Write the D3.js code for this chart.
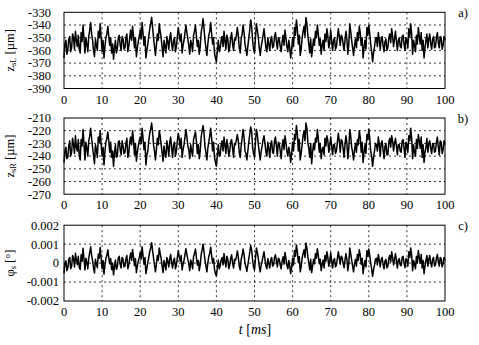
<!DOCTYPE html>
<html>
<head>
<meta charset="utf-8">
<script src="https://cdn.jsdelivr.net/npm/d3@7"></script>
<style>
  html, body { margin: 0; padding: 0; background: #fff; }
  .tick-label { font-size: 12.5px; fill: #000; }
  .grid { stroke: #000; stroke-width: 0.8; stroke-dasharray: 2,3; }
</style>
</head>
<body>
<div id="chart"></div>
<script>
// ---------------- data ----------------
const sampleStep = 0.25; // ms between samples, t = 0 .. 100

const zsL = [
  -366,-355,-352,-363,-360,-351,-349,-361,-358,-347,-350,-359,-345,-352,-357,-348,-359,-362,-346,-353,-340,-351,-362,-350,-355,-361,-349,-344,-338,-347,-352,-360,-365,-351,-356,-360,-345,-350,-339,-350,
  -361,-352,-366,-357,-350,-347,-341,-349,-356,-350,-362,-355,-367,-358,-352,-362,-359,-350,-348,-356,-360,-349,-351,-359,-358,-350,-347,-361,-357,-350,-344,-352,-341,-349,-358,-350,-365,-358,-353,-349,
  -344,-351,-338,-347,-356,-349,-366,-360,-355,-349,-343,-339,-334,-342,-350,-357,-364,-356,-347,-352,-339,-345,-350,-358,-365,-352,-357,-362,-349,-353,-359,-350,-346,-355,-360,-352,-350,-361,-357,-349,
  -342,-348,-353,-347,-362,-356,-352,-346,-340,-346,-351,-356,-363,-352,-355,-361,-348,-345,-340,-349,-357,-352,-363,-357,-346,-341,-335,-343,-352,-358,-364,-355,-348,-345,-338,-347,-355,-350,-362,-366,
  -369,-360,-352,-361,-358,-352,-349,-357,-345,-353,-359,-348,-351,-361,-357,-350,-346,-355,-360,-351,-352,-348,-342,-349,-358,-362,-351,-347,-340,-346,-355,-359,-364,-357,-350,-344,-336,-341,-352,-359,
  -362,-350,-339,-344,-350,-358,-364,-357,-353,-348,-343,-351,-358,-361,-350,-355,-360,-352,-349,-358,-357,-349,-346,-353,-359,-350,-351,-357,-361,-353,-348,-356,-344,-350,-357,-361,-352,-358,-366,-359,
  -350,-357,-342,-348,-336,-343,-355,-348,-364,-359,-350,-345,-341,-349,-334,-339,-348,-355,-362,-351,-365,-358,-351,-356,-345,-350,-340,-347,-356,-351,-363,-356,-352,-360,-347,-353,-343,-349,-358,-353,
  -344,-353,-360,-352,-350,-359,-357,-350,-343,-349,-356,-348,-349,-355,-360,-352,-345,-351,-363,-355,-339,-345,-352,-358,-364,-356,-351,-358,-346,-352,-341,-346,-356,-350,-366,-358,-352,-359,-342,-348,
  -340,-347,-355,-361,-369,-362,-357,-351,-350,-357,-346,-352,-359,-351,-349,-356,-361,-353,-351,-360,-358,-350,-347,-354,-343,-349,-357,-351,-345,-353,-360,-352,-350,-357,-358,-349,-348,-355,-360,-350,
  -352,-358,-343,-349,-339,-347,-363,-352,-356,-361,-348,-355,-342,-349,-355,-346,-360,-352,-366,-358,-352,-347,-358,-351,-347,-355,-359,-351,-349,-358,-357,-350,-346,-354,-358,-349,-350,-359,-356,-349,
  -352
];

const zsR = [
  -245,-236,-233,-242,-241,-232,-228,-240,-237,-226,-231,-238,-224,-233,-236,-227,-240,-243,-227,-232,-219,-230,-243,-229,-234,-240,-228,-224,-218,-226,-233,-239,-246,-231,-235,-241,-225,-229,-220,-231,
  -240,-233,-247,-236,-229,-226,-221,-228,-237,-229,-241,-236,-248,-237,-231,-241,-240,-229,-228,-235,-239,-228,-232,-238,-237,-230,-226,-241,-238,-229,-225,-231,-220,-228,-239,-230,-244,-237,-232,-228,
  -225,-230,-218,-226,-235,-229,-247,-239,-236,-228,-222,-219,-214,-221,-231,-236,-243,-235,-226,-231,-220,-224,-231,-237,-244,-232,-238,-241,-228,-233,-240,-229,-225,-234,-241,-231,-229,-240,-236,-228,
  -222,-227,-234,-226,-241,-235,-231,-225,-219,-225,-232,-235,-242,-231,-236,-240,-227,-224,-221,-228,-238,-231,-242,-236,-225,-220,-216,-222,-233,-237,-243,-234,-229,-224,-218,-226,-236,-229,-241,-245,
  -248,-239,-231,-240,-239,-231,-228,-236,-225,-232,-238,-227,-232,-240,-236,-229,-227,-234,-241,-230,-231,-227,-223,-228,-237,-241,-232,-226,-219,-225,-236,-238,-243,-236,-229,-223,-217,-220,-233,-238,
  -241,-229,-219,-223,-231,-237,-243,-236,-232,-227,-224,-230,-237,-240,-229,-234,-241,-231,-228,-237,-238,-228,-225,-232,-240,-229,-230,-236,-242,-232,-227,-235,-224,-229,-236,-240,-233,-237,-245,-238,
  -229,-236,-223,-227,-216,-222,-236,-227,-243,-238,-231,-224,-220,-228,-214,-218,-229,-234,-241,-230,-246,-237,-230,-235,-226,-229,-219,-226,-237,-230,-242,-235,-233,-239,-226,-232,-224,-228,-237,-232,
  -225,-232,-239,-231,-231,-238,-236,-229,-222,-228,-237,-227,-228,-234,-241,-231,-224,-230,-242,-234,-219,-224,-233,-237,-243,-235,-230,-237,-227,-231,-220,-225,-237,-229,-245,-237,-231,-238,-223,-227,
  -219,-226,-236,-240,-248,-241,-236,-230,-231,-236,-225,-231,-240,-230,-228,-235,-242,-232,-230,-239,-239,-229,-226,-233,-224,-228,-236,-230,-226,-232,-239,-231,-231,-236,-237,-228,-227,-234,-241,-229,
  -231,-237,-224,-228,-218,-226,-242,-231,-237,-240,-227,-234,-223,-228,-234,-225,-241,-231,-245,-237,-233,-226,-237,-230,-228,-234,-238,-230,-230,-237,-236,-229,-225,-233,-239,-228,-229,-238,-235,-228,
  -231
];

const phiS = [
  -0.00055,0.00002,0.00012,-0.0004,-0.00025,0.0002,0.0003,-0.0003,-0.00018,0.0004,0.00024,-0.0002,0.00052,0.00014,-0.00008,0.00036,-0.00022,-0.00034,0.00044,0.0001,0.00078,0.0002,-0.00036,0.00026,0.00002,-0.0003,0.00028,0.00056,0.00086,0.0004,0.00014,-0.00026,-0.00052,0.0002,-0.00004,-0.00024,0.00048,0.00026,0.00082,0.00024,
  -0.0003,0.00014,-0.00058,-0.0001,0.00026,0.0004,0.0007,0.0003,-0.00004,0.00024,-0.00034,0,-0.00062,-0.00016,0.00016,-0.00034,-0.0002,0.00026,0.00036,-0.00006,-0.00026,0.0003,0.0002,-0.0002,-0.00016,0.00024,0.0004,-0.0003,-0.0001,0.00026,0.00054,0.00014,0.00072,0.0003,-0.00014,0.00024,-0.0005,-0.00016,0.0001,0.0003,
  0.00056,0.0002,0.00086,0.0004,-0.00006,0.0003,-0.00056,-0.00026,0.00002,0.0003,0.0006,0.0008,0.00108,0.00066,0.00026,-0.0001,-0.00046,-0.00006,0.0004,0.00014,0.0008,0.0005,0.00024,-0.00016,-0.0005,0.00014,-0.0001,-0.00036,0.0003,0.0001,-0.0002,0.00024,0.00046,0,-0.00026,0.00016,0.00026,-0.0003,-0.0001,0.0003,
  0.00066,0.00034,0.0001,0.0004,-0.00036,-0.00006,0.00014,0.00046,0.00076,0.00044,0.0002,-0.00004,-0.0004,0.00016,0.00002,-0.0003,0.00034,0.0005,0.00074,0.0003,-0.0001,0.00014,-0.0004,-0.0001,0.00046,0.0007,0.001,0.0006,0.00016,-0.00014,-0.00046,0,0.00036,0.0005,0.00084,0.0004,0,0.00024,-0.00034,-0.00056,
  -0.00068,-0.00026,0.00016,-0.0003,-0.00014,0.00016,0.0003,-0.0001,0.0005,0.0001,-0.0002,0.00036,0.0002,-0.0003,-0.0001,0.00024,0.00044,0,-0.00026,0.0002,0.00014,0.00034,0.00064,0.0003,-0.00016,-0.00036,0.0002,0.0004,0.00074,0.00046,0,-0.0002,-0.00044,-0.0001,0.00024,0.00056,0.00094,0.0007,0.00016,-0.0002,
  -0.00036,0.00024,0.0008,0.00056,0.00024,-0.00016,-0.00046,-0.0001,0.0001,0.00036,0.0006,0.0002,-0.00016,-0.0003,0.00024,0,-0.00026,0.00016,0.0003,-0.00016,-0.0001,0.0003,0.00044,0.0001,-0.0002,0.00026,0.0002,-0.0001,-0.0003,0.0001,0.00034,-0.00006,0.00056,0.00024,-0.0001,-0.0003,0.00014,-0.00016,-0.00056,-0.0002,
  0.00024,-0.0001,0.00066,0.00036,0.00096,0.0006,0.00002,0.00034,-0.00046,-0.0002,0.00026,0.0005,0.0007,0.0003,0.00106,0.0008,0.00034,0,-0.00036,0.0002,-0.0005,-0.00016,0.0002,-0.00004,0.0005,0.00026,0.00076,0.0004,-0.00004,0.0002,-0.0004,-0.00006,0.00016,-0.00026,0.0004,0.0001,0.0006,0.0003,-0.00016,0.0001,
  0.00054,0.0001,-0.00026,0.00016,0.00024,-0.0002,-0.0001,0.00024,0.0006,0.0003,-0.00006,0.00036,0.0003,0,-0.00024,0.00014,0.0005,0.0002,-0.0004,0,0.0008,0.0005,0.00016,-0.00016,-0.00046,-0.00004,0.0002,-0.00016,0.00046,0.00014,0.0007,0.00044,-0.00006,0.00026,-0.00056,-0.00014,0.00014,-0.0002,0.00066,0.00036,
  0.00074,0.0004,0,-0.0003,-0.0007,-0.00036,-0.0001,0.0002,0.00026,-0.0001,0.00046,0.00014,-0.0002,0.0002,0.0003,-0.00006,-0.0003,0.0001,0.0002,-0.00026,-0.00016,0.00024,0.0004,0.00006,0.0006,0.0003,-0.0001,0.0002,0.0005,0.0001,-0.00026,0.00016,0.00024,-0.0001,-0.00014,0.0003,0.00036,0,-0.00024,0.00024,
  0.00016,-0.00016,0.0006,0.0003,0.0008,0.0004,-0.0004,0.00014,-0.00006,-0.0003,0.00036,0,0.00066,0.0003,0,0.00046,-0.00026,0.00014,-0.00056,-0.00016,0.00014,0.0004,-0.00016,0.0002,0.0004,0,-0.0002,0.0002,0.0003,-0.00016,-0.0001,0.00024,0.00046,0.00006,-0.00016,0.0003,0.00024,-0.0002,-0.00004,0.0003,
  0.00014
];

const xTicks = [0, 10, 20, 30, 40, 50, 60, 70, 80, 90, 100];
const zsLTicks = [-390, -380, -370, -360, -350, -340, -330];
const zsRTicks = [-270, -260, -250, -240, -230, -220, -210];
const phiTicks = [-0.002, -0.001, 0, 0.001, 0.002];
const phiTickLabels = ["-0.002", "-0.001", "0", "0.001", "0.002"];

// ---------------- layout ----------------
const W = 479, H = 345;
const FONT = "Liberation Serif";

const svg = d3.select("#chart").append("svg")
  .attr("width", W).attr("height", H)
  .attr("viewBox", `0 0 ${W} ${H}`)
  .attr("font-family", FONT);

const x = d3.scaleLinear().domain([0, 100]).range([64, 445]);

const panels = [
  { values: zsL, ticks: zsLTicks, labels: zsLTicks.map(String), top: 12.3, bottom: 88.5,
    labelRight: 51, tag: "a)", name: ["z", "sL", " [\u00b5m]"] },
  { values: zsR, ticks: zsRTicks, labels: zsRTicks.map(String), top: 118, bottom: 194.2,
    labelRight: 51, tag: "b)", name: ["z", "sR", " [\u00b5m]"] },
  { values: phiS, ticks: phiTicks, labels: phiTickLabels, top: 225.2, bottom: 301,
    labelRight: 59, tag: "c)", name: ["\u03c6", "s", " [\u00b0]"] }
];

panels.forEach((p) => {
  const y = d3.scaleLinear()
    .domain(d3.extent(p.ticks))
    .range([p.bottom, p.top]);
  const g = svg.append("g");

  // grid
  g.selectAll(".vgrid")
    .data(xTicks.slice(1, -1))
    .enter().append("line")
    .attr("class", "grid")
    .attr("x1", (d) => x(d)).attr("x2", (d) => x(d))
    .attr("y1", p.top).attr("y2", p.bottom);
  g.selectAll(".hgrid")
    .data(p.ticks.slice(1, -1))
    .enter().append("line")
    .attr("class", "grid")
    .attr("x1", x(0)).attr("x2", x(100))
    .attr("y1", (d) => y(d)).attr("y2", (d) => y(d));

  // signal
  const line = d3.line()
    .x((d, i) => x(i * sampleStep))
    .y((d) => y(d));
  g.append("path")
    .datum(p.values)
    .attr("fill", "none")
    .attr("stroke", "#000")
    .attr("stroke-width", 1.5)
    .attr("stroke-linejoin", "round")
    .attr("d", line);

  // frame
  g.append("rect")
    .attr("x", x(0)).attr("y", p.top)
    .attr("width", x(100) - x(0)).attr("height", p.bottom - p.top)
    .attr("fill", "none").attr("stroke", "#000").attr("stroke-width", 1);

  // y tick labels
  g.selectAll(".ylab")
    .data(p.ticks)
    .enter().append("text")
    .attr("class", "tick-label")
    .attr("font-family", FONT)
    .attr("x", p.labelRight)
    .attr("y", (d) => y(d))
    .attr("dy", "0.35em")
    .attr("text-anchor", "end")
    .text((d, i) => p.labels[i]);

  // x tick labels
  g.selectAll(".xlab")
    .data(xTicks)
    .enter().append("text")
    .attr("class", "tick-label")
    .attr("font-family", FONT)
    .attr("x", (d) => x(d))
    .attr("y", p.bottom + 15)
    .attr("text-anchor", "middle")
    .text((d) => d);

  // panel tag
  g.append("text")
    .attr("class", "tick-label")
    .attr("font-family", FONT)
    .attr("x", 463).attr("y", p.top + 5)
    .attr("text-anchor", "middle")
    .text(p.tag);

  // y axis title
  const t = g.append("text")
    .attr("font-family", FONT)
    .attr("transform", `translate(14,${(p.top + p.bottom) / 2}) rotate(-90)`)
    .attr("text-anchor", "middle")
    .style("font-size", "12.5px");
  t.append("tspan").text(p.name[0]);
  t.append("tspan").attr("dy", 2).style("font-size", "8.5px").text(p.name[1]);
  t.append("tspan").attr("dy", -2).text(p.name[2]);
});

// x axis title
const xt = svg.append("text")
  .attr("font-family", FONT)
  .attr("x", 255).attr("y", 334)
  .attr("text-anchor", "middle")
  .style("font-size", "14px");
xt.append("tspan").style("font-style", "italic").text("t");
xt.append("tspan").text(" [");
xt.append("tspan").style("font-style", "italic").text("ms");
xt.append("tspan").text("]");
</script>
</body>
</html>
